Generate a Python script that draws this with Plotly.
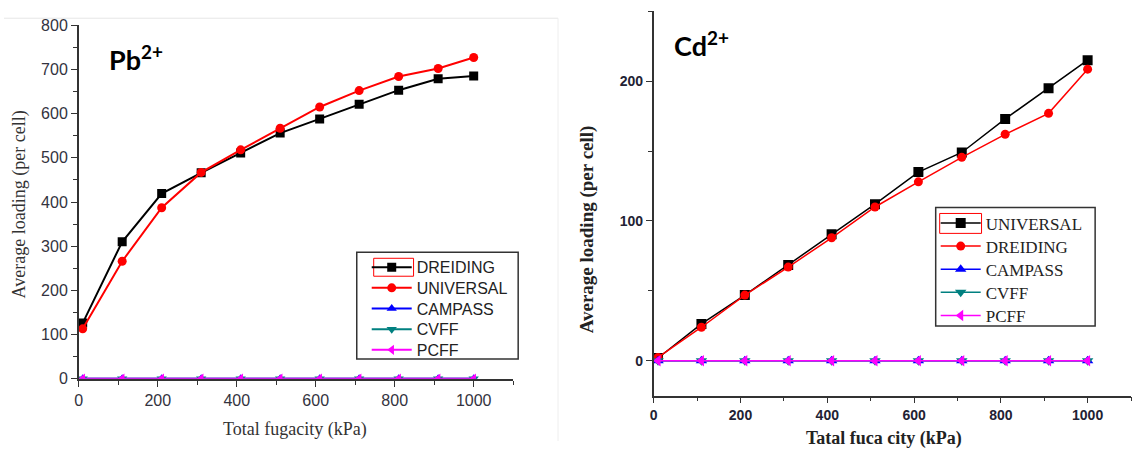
import plotly.graph_objects as go

# ---------------- data ----------------
fugacity = [10, 110, 210, 310, 410, 510, 610, 710, 810, 910, 1000]

pb_dreiding = [126, 310, 419, 466, 511, 556, 588, 621, 653, 679, 685]
pb_universal = [113, 266, 387, 467, 518, 567, 615, 652, 684, 702, 727]
pb_campass = [0, 0, 0, 0, 0, 0, 0, 0, 0, 0, 0]
pb_cvff = [0, 0, 0, 0, 0, 0, 0, 0, 0, 0, 0]
pb_pcff = [0, 0, 0, 0, 0, 0, 0, 0, 0, 0, 0]

cd_universal = [2, 26.4, 47, 68.6, 90.5, 112, 135, 149, 173, 195, 215]
cd_dreiding = [2.4, 24, 47, 67, 88, 110, 128, 145.5, 162, 177, 208.6]
cd_campass = [0, 0, 0, 0, 0, 0, 0, 0, 0, 0, 0]
cd_cvff = [0, 0, 0, 0, 0, 0, 0, 0, 0, 0, 0]
cd_pcff = [0, 0, 0, 0, 0, 0, 0, 0, 0, 0, 0]

x_ticks = [0, 200, 400, 600, 800, 1000]
pb_y_ticks = [0, 100, 200, 300, 400, 500, 600, 700, 800]
cd_y_ticks = [0, 100, 200]

W, H = 1133, 450

def px(v):
    return v / W

def py(v):
    v = v / 0.966 - 8
    return 1 - v / H

fig = go.Figure()

legend_layouts = {}
legend_counter = [0]

def add(x, y, name, color, symbol, size, lw, xa, ya, lx, ly, font):
    legend_counter[0] += 1
    key = "legend" if legend_counter[0] == 1 else "legend%d" % legend_counter[0]
    fig.add_trace(go.Scatter(
        x=x, y=y, name=name, mode="lines+markers",
        line=dict(color=color, width=lw),
        marker=dict(color=color, symbol=symbol, size=size),
        xaxis=xa, yaxis=ya, legend=key))
    legend_layouts[key] = dict(x=px(lx), y=py(ly), xanchor="left", yanchor="middle",
                               bgcolor="rgba(0,0,0,0)", borderwidth=0, font=font,
                               tracegroupgap=0, itemwidth=40)

left_font = dict(family="Liberation Sans", size=16, color="#222222")
right_font = dict(family="Liberation Serif", size=17, color="#222222")
LX, RX = 364, 935
lrow = [268, 288.75, 309.5, 330.25, 351]
rrow = [224, 247.2, 270.4, 293.6, 316.8]

# left panel (Pb)
add(fugacity, pb_dreiding, "DREIDING", "black", "square", 9, 2, "x", "y", LX, lrow[0], left_font)
add(fugacity, pb_universal, "UNIVERSAL", "#ff0000", "circle", 9, 2, "x", "y", LX, lrow[1], left_font)
add(fugacity, pb_campass, "CAMPASS", "#0000ff", "triangle-up", 9, 2, "x", "y", LX, lrow[2], left_font)
add(fugacity, pb_cvff, "CVFF", "#008080", "triangle-down", 9, 2, "x", "y", LX, lrow[3], left_font)
add(fugacity, pb_pcff, "PCFF", "#ff00ff", "triangle-left", 9, 2, "x", "y", LX, lrow[4], left_font)

# right panel (Cd)
add(fugacity, cd_universal, "UNIVERSAL", "black", "square", 10, 1.5, "x2", "y2", RX, rrow[0], right_font)
add(fugacity, cd_dreiding, "DREIDING", "#ff0000", "circle", 9, 1.5, "x2", "y2", RX, rrow[1], right_font)
add(fugacity, cd_campass, "CAMPASS", "#0000ff", "triangle-up", 10, 1.5, "x2", "y2", RX, rrow[2], right_font)
add(fugacity, cd_cvff, "CVFF", "#008080", "triangle-down", 10, 1.5, "x2", "y2", RX, rrow[3], right_font)
add(fugacity, cd_pcff, "PCFF", "#ff00ff", "triangle-left", 10, 1.5, "x2", "y2", RX, rrow[4], right_font)

axis_common = dict(showline=True, linewidth=1.5, linecolor="#333333", ticks="outside",
                   tickcolor="#333333", ticklen=6, tickwidth=1.2, showgrid=False,
                   zeroline=False, mirror=False)

fig.update_layout(
    width=W, height=H, margin=dict(l=0, r=0, t=0, b=0),
    paper_bgcolor="white", plot_bgcolor="white",
    xaxis=dict(domain=[px(75), px(511)], range=[0, 1100], anchor="y",
               tickvals=x_ticks, tickfont=dict(family="Liberation Sans", size=16, color="#333340"),
               minor=dict(dtick=100, tick0=0, ticks="outside", ticklen=4, tickcolor="#333333"),
               **axis_common),
    yaxis=dict(domain=[py(380), py(25)], range=[0, 800], anchor="x",
               tickvals=pb_y_ticks, tickfont=dict(family="Liberation Sans", size=16, color="#333340"),
               minor=dict(dtick=50, tick0=0, ticks="outside", ticklen=4, tickcolor="#333333"),
               **axis_common),
    xaxis2=dict(domain=[px(652), px(1131)], range=[0, 1100], anchor="y2",
                tickvals=x_ticks, tickfont=dict(family="Liberation Sans", size=14, color="#222233", weight="bold"),
                minor=dict(dtick=100, tick0=0, ticks="outside", ticklen=4, tickcolor="#333333"),
                **axis_common),
    yaxis2=dict(domain=[py(397), py(11)], range=[-25, 250], anchor="x2",
                tickvals=cd_y_ticks, tickfont=dict(family="Liberation Sans", size=14, color="#222233", weight="bold"),
                minor=dict(dtick=50, tick0=0, ticks="outside", ticklen=4, tickcolor="#333333"),
                **axis_common),
    showlegend=True,
)
fig.update_layout(**legend_layouts)

annotations = [
    dict(text="<b>Pb<sup>2+</sup></b>", x=px(103), y=py(58), xanchor="left", yanchor="middle",
         font=dict(family="Lato", size=27, color="black")),
    dict(text="<b>Cd<sup>2+</sup></b>", x=px(670), y=py(44), xanchor="left", yanchor="middle",
         font=dict(family="Lato", size=27, color="black")),
    dict(text="Total fugacity (kPa)", x=px(292), y=py(431), xanchor="center", yanchor="middle",
         font=dict(family="Liberation Serif", size=18, color="#333333")),
    dict(text="Average loading (per cell)", x=px(16), y=py(205), xanchor="center", yanchor="middle",
         textangle=-90, font=dict(family="Liberation Serif", size=18, color="#333333")),
    dict(text="<b>Tatal fuca city (kPa)</b>", x=px(883), y=py(440), xanchor="center", yanchor="middle",
         font=dict(family="Liberation Serif", size=18, color="#222222")),
    dict(text="<b>Average loading (per cell)</b>", x=px(585), y=py(230), xanchor="center", yanchor="middle",
         textangle=-90, font=dict(family="Liberation Serif", size=19, color="#222222")),
]
for a in annotations:
    a.update(xref="paper", yref="paper", showarrow=False)
fig.update_layout(annotations=annotations)

shapes = [
    # legend frames
    dict(type="rect", xref="paper", yref="paper", x0=px(354), x1=px(516), y0=py(360), y1=py(253),
         line=dict(color="#333333", width=1.5), fillcolor="white", layer="below"),
    dict(type="rect", xref="paper", yref="paper", x0=px(935), x1=px(1095), y0=py(327), y1=py(208),
         line=dict(color="#333333", width=1.5), fillcolor="white", layer="below"),
    # red selection boxes around first legend samples
    dict(type="rect", xref="paper", yref="paper", x0=px(371), x1=px(411), y0=py(277), y1=py(259),
         line=dict(color="#ff0000", width=1), layer="above"),
    dict(type="rect", xref="paper", yref="paper", x0=px(939), x1=px(981), y0=py(234), y1=py(214),
         line=dict(color="#ff0000", width=1), layer="above"),
    # faint frame of the left image
    dict(type="line", xref="paper", yref="paper", x0=0, x1=px(556), y0=py(18), y1=py(18),
         line=dict(color="#e6e6e6", width=1)),
    dict(type="line", xref="paper", yref="paper", x0=px(556), x1=px(556), y0=py(18), y1=0,
         line=dict(color="#eeeeee", width=1)),
]
fig.update_layout(shapes=shapes)

fig.write_html("out.html")
